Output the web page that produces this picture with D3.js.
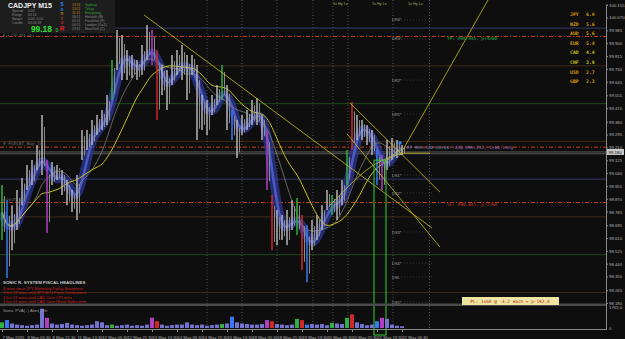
<!DOCTYPE html>
<html>
<head>
<meta charset="UTF-8">
<style>
body{margin:0;background:#0e0e0e;}
svg{display:block;font-family:"Liberation Sans",Arial,sans-serif;}
</style>
</head>
<body>
<svg></svg>
<script src="https://d3js.org/d3.v7.min.js"></script>
<script>
// ---- data (CADJPY M15, 3.2h per bar here) ----
const barHigh = [98.961,98.861,98.828,98.928,99.007,99.093,99.126,99.226,99.424,99.126,
  99.113,99.093,99.060,98.994,98.928,99.027,99.325,99.325,99.391,99.424,
  99.458,99.557,99.789,99.987,99.954,99.855,99.822,99.789,99.888,100.020,
  99.987,99.855,99.756,99.722,99.822,99.855,99.888,99.822,99.822,99.756,
  99.557,99.524,99.557,99.623,99.756,99.623,99.458,99.391,99.424,99.458,
  99.524,99.537,99.424,99.325,98.895,98.795,98.762,98.795,98.861,98.875,
  98.762,98.696,98.729,98.762,98.828,98.928,98.895,98.928,98.994,99.193,
  99.511,99.424,99.391,99.358,99.325,99.193,99.160,99.259,99.272,99.259,99.226];
const barLow = [98.597,98.345,98.530,98.663,98.828,98.928,98.961,99.060,99.027,98.643,
  98.961,98.994,98.895,98.828,98.782,98.729,99.126,99.193,99.226,99.292,
  99.325,99.358,99.524,99.722,99.656,99.656,99.669,99.656,99.689,99.789,
  99.756,99.391,99.557,99.458,99.623,99.689,99.656,99.524,99.689,99.259,
  99.325,99.292,99.424,99.491,99.524,99.325,99.259,99.140,99.292,99.325,
  99.358,99.358,99.259,98.928,98.530,98.563,98.597,98.563,98.663,98.630,
  98.398,98.318,98.530,98.597,98.663,98.795,98.762,98.729,98.828,98.961,
  99.193,99.259,99.259,99.226,99.160,98.961,98.928,99.060,99.126,99.140,99.160];
const volume = [500,700,400,300,250,200,250,300,1700,900,
  400,300,350,450,300,250,200,250,300,600,
  500,250,300,200,250,300,200,250,200,300,
  900,600,300,200,250,300,300,500,300,250,
  300,200,250,300,350,400,1000,500,400,350,
  300,300,350,700,600,350,300,250,300,800,
  700,300,350,300,350,250,450,400,350,900,
  1200,500,350,250,300,600,900,800,300,200,150];
// PVA class of each bar: n normal, u climax up, d climax down, b rising bull, m rising bear
const volType = ["u","b","n","n","n","n","n","n","n","m",
  "n","n","n","n","n","n","n","n","n","n",
  "n","n","u","n","n","n","n","n","n","n",
  "m","d","n","n","n","n","n","n","n","n",
  "n","n","n","n","u","n","b","n","n","n",
  "n","n","n","m","d","n","n","n","n","u",
  "d","b","n","n","n","n","u","n","n","u",
  "d","n","n","n","n","b","m","n","n","n","n"];
const timeLabels = ["7 May 2015","8 May 05:30","8 May 21:30","11 May 13:30","12 May 05:30",
  "12 May 21:30","13 May 13:30","14 May 05:30","14 May 21:30","15 May 13:30","18 May 05:30",
  "18 May 21:30","19 May 13:30","20 May 05:30","20 May 21:30","21 May 13:30","22 May 05:30"];
const priceTicks = [100.155,100.070,99.985,99.900,99.815,99.730,99.645,99.555,99.470,99.380,
  99.295,99.210,99.125,99.040,98.955,98.870,98.785,98.695,98.610,98.525,98.440,98.355,98.265,98.180];
const roundLevels = [100.00, 99.00];
const halfLevels = [99.50, 98.50];
const quarterLevels = [99.75, 99.25, 98.75, 98.25];
const tradeLevels = [99.945, 99.212, 98.845]; // TP, AVG, SL
const bid = 99.18;
const daySeparators = [41, 48, 55, 62.2, 66.2, 69.2, 78.2, 85.5];
const pivotNames = ["DR4*","DR3*","DR2*","DR1*","DS1*","DS2*","DS3*","DS4*","DSL","DS5*"];
const pivotPrices = [100.054, 99.928, 99.656, 99.431, 99.027, 98.908, 98.650, 98.444, 98.352, 98.186];
const hiLoMarks = [66.2, 74, 81.2];
const strengthCcy = ["JPY","NZD","AUD","EUR","CAD","CHF","USD","GBP"];
const strengthVal = [6.0, 5.6, 5.6, 5.4, 4.4, 3.9, 2.7, 2.3];
const sessTimes = ["13:11","13:11","11:11","06:11","05:11","04:11","23:11"];
const sessNames = ["Sydney","Tokyo","Hongkong","Helsinki (B)","Frankfurt (F)","London (O=1)","NewYork (C)"];
const headlines = ["8 mins since JPY Monetary Policy Statement","1 hrs 22 mins until JPY BOJ Press Conference",
  "1 hrs 51 mins until CAD Core CPI m/m","1 hrs 51 mins until CAD Core Retail Sales m/m"];
// trend objects in (bar index, price)
const trendLines = [
  [[28.4,100.087],[86,98.676]],
  [[69.6,99.504],[87.6,98.914]],
  [[69,99.30],[87.6,98.55]],
  [[79.6,99.160],[97.2,100.186]],
  [[80.2,99.172],[85.6,99.172]]
];
const arcPts = [[65.6,98.828],[70.6,98.994],[75,99.106],[80,99.172]];

const W = 625, H = 339, right = 606;
const svg = d3.select("svg").attr("width", W).attr("height", H);
svg.append("rect").attr("width", W).attr("height", H).attr("fill", "#0e0e0e");

const x = d3.scaleLinear().domain([0, 80]).range([2, 402]);
const y = d3.scaleLinear().domain([98.18, 100.155]).range([303, 4.7]);
const yv = d3.scaleLinear().domain([0, 1765]).range([328, 308]);

const main = svg.append("g");

// level lines
roundLevels.forEach(v => main.append("line").attr("x1",0).attr("x2",right).attr("y1",y(v)).attr("y2",y(v)).attr("stroke","#36366e"));
halfLevels.forEach(v => main.append("line").attr("x1",0).attr("x2",right).attr("y1",y(v)).attr("y2",y(v)).attr("stroke","#1d4a1d"));
quarterLevels.forEach(v => main.append("line").attr("x1",0).attr("x2",right).attr("y1",y(v)).attr("y2",y(v)).attr("stroke","#3e2c18"));

// day separators
daySeparators.forEach(d => main.append("line").attr("x1",x(d)).attr("x2",x(d)).attr("y1",0).attr("y2",329)
  .attr("stroke","#6a6a6a").attr("stroke-dasharray","1,2").attr("stroke-width",0.7));

tradeLevels.forEach(v => main.append("line").attr("x1",0).attr("x2",right).attr("y1",y(v)).attr("y2",y(v))
  .attr("stroke","#c8401a").attr("stroke-dasharray","4,2,1,2"));
[bid, bid - 0.012].forEach(v => main.append("line").attr("x1",0).attr("x2",right).attr("y1",y(v)).attr("y2",y(v)).attr("stroke","#7a7a7a").attr("stroke-width",0.7));

// pivot labels in the future area
pivotNames.forEach((p,i) => {
  main.append("line").attr("x1",x(78)).attr("x2",x(86)).attr("y1",y(pivotPrices[i])).attr("y2",y(pivotPrices[i]))
    .attr("stroke","#4a4a4a").attr("stroke-dasharray","1,2").attr("stroke-width",0.6);
  main.append("text").attr("x",x(78)).attr("y",y(pivotPrices[i])+1.5).text(p).attr("fill","#9a9a9a").attr("font-size",4);
});
hiLoMarks.forEach(d => main.append("text").attr("x",x(d)).attr("y",5).text("1x Hy Lx").attr("fill","#a8a860").attr("font-size",3.8));

// moving averages
const mid = barHigh.map((h, i) => (h + barLow[i]) / 2);
function sma(n) { return mid.map((v, i) => d3.mean(mid.slice(Math.max(0, i - n + 1), i + 1))); }
const line = d3.line().x((d, i) => x(i)).y(d => y(d)).curve(d3.curveBasis);
const fast = sma(3), slowG = sma(7), slowY = sma(12);
main.append("path").attr("d", line(fast)).attr("fill","none").attr("stroke","#2d3a9c").attr("stroke-width",9).attr("opacity",0.7);
main.append("path").attr("d", line(fast)).attr("fill","none").attr("stroke","#5a68d8").attr("stroke-width",2.5).attr("opacity",0.75);
main.append("path").attr("d", line(slowG)).attr("fill","none").attr("stroke","#8a8a8a").attr("stroke-width",0.7);
main.append("path").attr("d", line(slowY)).attr("fill","none").attr("stroke","#c8c020").attr("stroke-width",1);

// price bars
const barColor = {n:"#bdbdbd", u:"#30b040", d:"#d02828", b:"#3a78f0", m:"#b040c0"};
main.selectAll(".bar").data(barHigh).join("line").attr("class","bar")
  .attr("x1",(d,i)=>x(i)).attr("x2",(d,i)=>x(i))
  .attr("y1",d=>y(d)).attr("y2",(d,i)=>y(barLow[i]))
  .attr("stroke",(d,i)=>volType[i]==="n" ? "#b4b4b4" : barColor[volType[i]]).attr("stroke-width",1.5);
main.selectAll(".bar2").data(barHigh).join("line").attr("class","bar2")
  .attr("x1",(d,i)=>x(i)+2.5).attr("x2",(d,i)=>x(i)+2.5)
  .attr("y1",(d,i)=>y(d)+ (y(barLow[i])-y(d))*0.2).attr("y2",(d,i)=>y(barLow[i]) - (y(barLow[i])-y(d))*0.15)
  .attr("stroke","#8a8a8a").attr("stroke-width",1);

// trend lines
trendLines.forEach(t => main.append("line").attr("x1",x(t[0][0])).attr("y1",y(t[0][1]))
  .attr("x2",x(t[1][0])).attr("y2",y(t[1][1])).attr("stroke","#c8c020").attr("stroke-width",0.8));
main.append("path").attr("d", d3.line().x(d=>x(d[0])).y(d=>y(d[1])).curve(d3.curveNatural)(arcPts))
  .attr("fill","none").attr("stroke","#c8c020").attr("stroke-width",0.8);

// green trade box
main.append("rect").attr("x",x(74.4)).attr("y",y(99.126)).attr("width",x(76.8)-x(74.4)).attr("height",335-y(99.126))
  .attr("fill","none").attr("stroke","#2ed02e").attr("stroke-width",1);
main.append("rect").attr("x",x(79.6)-1.5).attr("y",y(99.24)-1.5).attr("width",3).attr("height",3).attr("fill","#2a8cff");

// trade texts
const tt = (tx, ty, s, c, fs) => svg.append("text").attr("x",tx).attr("y",ty).text(s).attr("fill",c)
  .attr("font-size",fs || 4.4).attr("font-family","'DejaVu Sans Mono',monospace");
tt(447, y(99.945)+4, "TP: 099.945, p+4380", "#22b04a");
tt(407, y(99.212)+2, "EP 099.180 00:00", "#6e8cc8");
tt(455, y(99.212)+2, "AVG 099.212, 1x60 Long", "#9a70c8");
tt(447, y(98.845)+3, "SL: 098.841, p-2160", "#c83020");
tt(3, y(99.212)-2, "# FSDCNT_Buy_1o", "#707070");
tt(3, y(98.845)-2, "pivot 50", "#707070");

// volume panel
svg.append("rect").attr("x",0).attr("y",303.5).attr("width",right).attr("height",2.5).attr("fill","#4a4a4a");
svg.selectAll(".vol").data(volume).join("rect").attr("class","vol")
  .attr("x",(d,i)=>x(i)-2).attr("width",4).attr("y",d=>yv(d)).attr("height",d=>yv(0)-yv(d))
  .attr("fill",(d,i)=>volType[i]==="n" ? "#7474d0" : barColor[volType[i]]);
svg.append("line").attr("x1",0).attr("x2",right).attr("y1",329.5).attr("y2",329.5).attr("stroke","#8a8a8a");
svg.append("text").attr("x",3).attr("y",312).text("Sonic PVA(..)    Alert_On").attr("fill","#9a9a9a").attr("font-size",4.4);

// price axis
const ya = svg.append("g").attr("transform",`translate(${right},0)`)
  .call(d3.axisRight(y).tickValues(priceTicks).tickFormat(d3.format(".3f")).tickSize(2).tickPadding(1));
ya.select(".domain").attr("stroke","#8a8a8a");
ya.selectAll("line").attr("stroke","#8a8a8a");
ya.selectAll("text").attr("fill","#b4b4b4").attr("font-size",4.3);
svg.append("line").attr("x1",right+0.5).attr("x2",right+0.5).attr("y1",303).attr("y2",330).attr("stroke","#8a8a8a");
svg.append("rect").attr("x",right+1).attr("y",y(bid)-3).attr("width",17).attr("height",6).attr("fill","#c8c8c8");
svg.append("text").attr("x",right+2.5).attr("y",y(bid)+1.6).text("99.180").attr("fill","#111").attr("font-size",4.3);
svg.append("text").attr("x",right+3).attr("y",yv(1765)+1).text("1765.0").attr("fill","#b4b4b4").attr("font-size",4.3);
svg.append("text").attr("x",right+3).attr("y",yv(0)+1.5).text("0").attr("fill","#b4b4b4").attr("font-size",4.3);

// time axis
const xa = svg.append("g").attr("transform","translate(0,330)")
  .call(d3.axisBottom(x).tickValues(d3.range(0, 81, 5)).tickFormat((d,i)=>timeLabels[i]).tickSize(2));
xa.select(".domain").remove();
xa.selectAll("line").attr("stroke","#8a8a8a");
xa.selectAll("text").attr("fill","#b4b4b4").attr("font-size",4.2).attr("text-anchor","start").attr("dy","0.9em");

// info panel
svg.append("rect").attr("x",0).attr("y",0).attr("width",115).attr("height",33).attr("fill","#1d1d1d");
tt(3, y(99.945)-0.2, "# 1.FSO 99a 1o", "#707070", 3.4);
svg.append("text").attr("x",8).attr("y",7.5).text("CADJPY  M15").attr("fill","#f0f0f0").attr("font-size",7).attr("font-weight","bold");
[["Spread","0.00"],["Range","00.14"],["Swaps","0.00, 0.00"],["Candle","00:03:18"]].forEach((r,i)=>{
  svg.append("text").attr("x",12).attr("y",11.5+i*4).text(r[0]).attr("fill","#8a8a8a").attr("font-size",3.4);
  svg.append("text").attr("x",28).attr("y",11.5+i*4).text(r[1]).attr("fill","#8a8a8a").attr("font-size",3.4);
});
svg.append("text").attr("x",31).attr("y",31.5).text("99.18").attr("fill","#2ee02e").attr("font-size",8.3).attr("font-weight","bold");
svg.append("text").attr("x",55.5).attr("y",31.5).text("0").attr("fill","#2ee02e").attr("font-size",4.8);
[["S","#2a8cff",6],["o","#2a8cff",10.5],["n","#b08020",15],["i","#d07020",19.5],["c","#d02828",24],["R","#e02020",31]].forEach(s=>
  svg.append("text").attr("x",62).attr("y",s[2]).text(s[0]).attr("fill",s[1]).attr("font-size",s[0]==="R"?6.5:4.6).attr("font-weight","bold").attr("text-anchor","middle"));
sessTimes.forEach((t,i)=>{
  svg.append("text").attr("x",72).attr("y",5.8+i*4.1).text(t).attr("fill",i<3?"#d08a20":"#8a8a8a").attr("font-size",3.5);
  svg.append("text").attr("x",85).attr("y",5.8+i*4.1).text(sessNames[i]).attr("fill",i<3?"#30a030":"#8a8a8a").attr("font-size",3.5);
});

// currency strength
strengthCcy.forEach((c,i)=>{
  const col = i===4||i===5 ? "#c8c020" : "#d89a10";
  svg.append("text").attr("x",570).attr("y",16+i*9.6).text(c).attr("fill",col).attr("font-size",4.8).attr("font-family","'DejaVu Sans Mono',monospace").attr("font-weight","bold");
  svg.append("text").attr("x",586).attr("y",16+i*9.6).text(strengthVal[i].toFixed(1)).attr("fill",col).attr("font-size",4.8).attr("font-family","'DejaVu Sans Mono',monospace").attr("font-weight","bold");
});

// headlines
svg.append("text").attr("x",3).attr("y",284).text("SONIC R. SYSTEM   FISCAL HEADLINES").attr("fill","#c8c8c8").attr("font-size",4.4).attr("font-weight","bold");
headlines.forEach((h,i)=>svg.append("text").attr("x",3).attr("y",289.5+i*4.5).text(h).attr("fill","#d02020").attr("font-size",4));

// PL box
svg.append("rect").attr("x",462).attr("y",297).attr("width",97).attr("height",8).attr("fill","#eee6a0");
svg.append("text").attr("x",510).attr("y",302.5).text("PL: 1x60 @ -3.2 each = p-192.0").attr("fill","#c02020").attr("font-size",4.4).attr("text-anchor","middle").attr("font-family","'DejaVu Sans Mono',monospace");
</script>
</body>
</html>
